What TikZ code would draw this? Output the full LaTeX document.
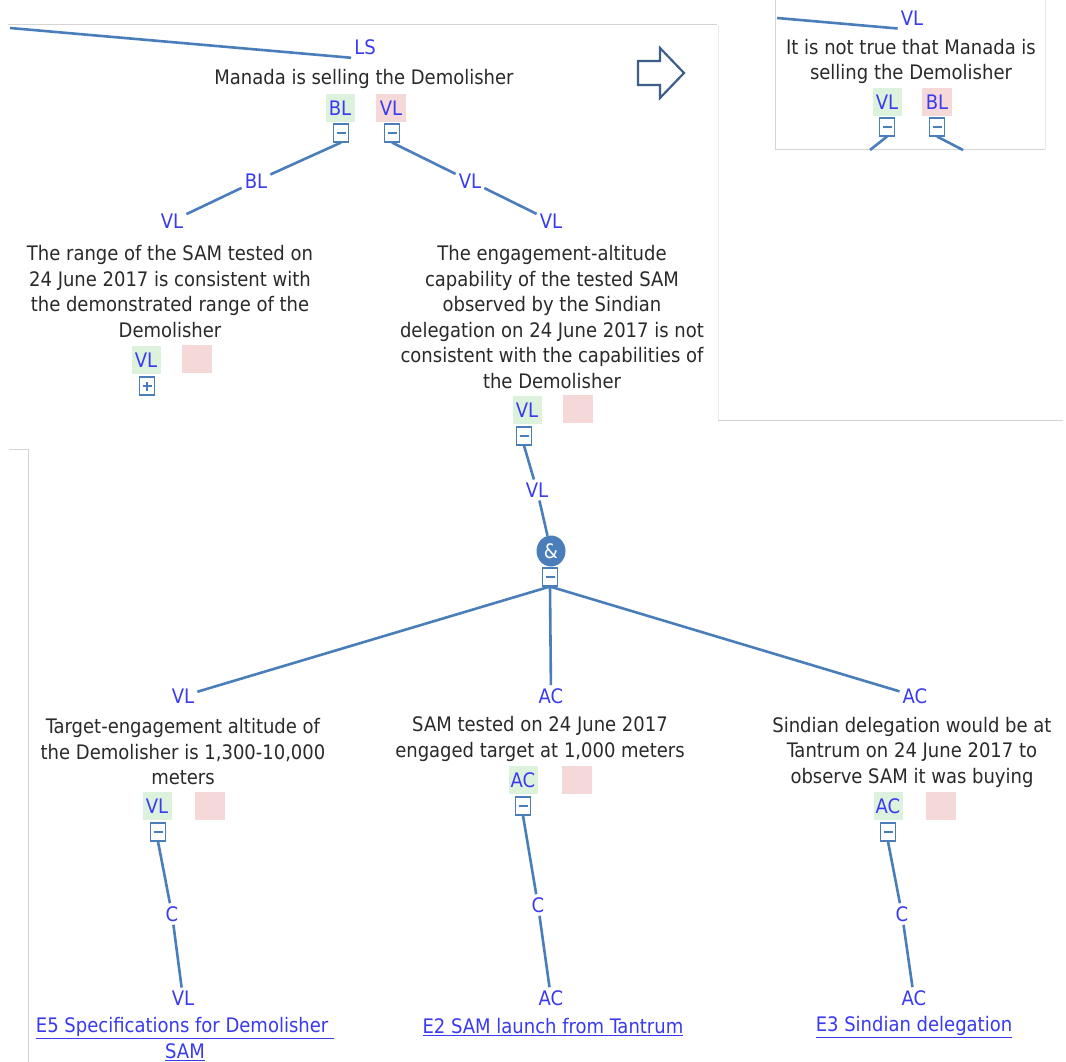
\documentclass[tikz,border=0pt]{standalone}
\usepackage{fontspec}
\setmainfont{DejaVu Sans Condensed}
\definecolor{lineblue}{HTML}{4A7EBB}
\definecolor{lblblue}{HTML}{3A3AF0}
\definecolor{txtgray}{HTML}{2A2A2A}
\definecolor{gfill}{HTML}{DDF2DC}
\definecolor{rfill}{HTML}{F5D9D9}
\definecolor{framegray}{HTML}{D4D4D4}
\definecolor{arrowblue}{HTML}{3E5F8A}
\tikzset{
  base/.style={font=\fontsize{20}{25.5}\selectfont},
  txt/.style={base, text=txtgray, align=center, inner sep=1pt},
  lbl/.style={base, text=lblblue, inner sep=3pt},
  gbox/.style={base, text=lblblue, fill=gfill, minimum width=29pt, minimum height=28pt, inner sep=0pt},
  rbox/.style={base, text=lblblue, fill=rfill, minimum width=30pt, minimum height=28pt, inner sep=0pt},
  toggle/.style={draw=lineblue, line width=1.1pt, fill=white, minimum width=15pt, minimum height=18pt, inner sep=0pt},
  minus/.style={toggle, path picture={\draw[lineblue, line width=1.2pt]
      ([xshift=-4.5pt]path picture bounding box.center) -- ([xshift=4.5pt]path picture bounding box.center);}},
  plus/.style={toggle, path picture={\draw[lineblue, line width=1.2pt]
      ([xshift=-4.5pt]path picture bounding box.center) -- ([xshift=4.5pt]path picture bounding box.center)
      ([yshift=-4.5pt]path picture bounding box.center) -- ([yshift=4.5pt]path picture bounding box.center);}},
  andnode/.style={ellipse, fill=lineblue, text=white, minimum width=29pt, minimum height=31pt, inner sep=0pt, base},
  edge/.style={draw=lineblue, line width=2.6pt},
  frame/.style={draw=framegray, line width=1pt},
  link/.style={base, text=lblblue, align=center, inner sep=1pt},
}
\usetikzlibrary{shapes.geometric}
\begin{document}
\begin{tikzpicture}[x=1pt, y=-1pt]
\useasboundingbox (0,0) rectangle (1066,1062);
\fill[white] (0,0) rectangle (1066,1062);

% panel borders
\draw[frame] (8,25) -- (717,25);
\draw[frame, draw=framegray!50] (718,25) -- (718,420);
\draw[frame] (775,0) -- (775,150) -- (1045,150);
\draw[frame, draw=framegray!50] (1045,0) -- (1045,150);
\draw[frame] (718,420) -- (1063,420);
\draw[frame] (9,449) -- (28,449) -- (28,1062);

% outline arrow between panels
\draw[arrowblue, line width=2.2pt, line join=miter]
  (638,61) -- (660,61) -- (660,48) -- (684,73) -- (660,98) -- (660,85) -- (638,85) -- cycle;

% ---------- top claim ----------
\coordinate (in0) at (10,28);
\node[lbl] (ls) at (365,47) {LS};
\node[txt] (n0) at (364,79) {Manada is selling the Demolisher};
\node[gbox] (n0g) at (340,108) {BL};
\node[rbox] (n0r) at (391,108) {VL};
\node[minus] (n0gm) at (341,133) {};
\node[minus] (n0rm) at (392,133) {};
\draw[edge] (in0) -- (ls.south west);

\node[lbl] (e1a) at (256,181) {BL};
\node[lbl] (e1b) at (172,221) {VL};
\node[lbl] (e2a) at (470,181) {VL};
\node[lbl] (e2b) at (551,221) {VL};
\draw[edge] (n0gm.south) -- (e1a);
\draw[edge] (e1a) -- (e1b);
\draw[edge] (n0rm.south) -- (e2a);
\draw[edge] (e2a) -- (e2b);

% ---------- left reason ----------
\node[txt] (n1) at (170,291.5) {The range of the SAM tested on\\24 June 2017 is consistent with\\the demonstrated range of the\\Demolisher};
\node[gbox] (n1g) at (146,360) {VL};
\node[rbox] (n1r) at (197,359) {};
\node[plus] (n1p) at (147,386) {};

% ---------- right reason ----------
\node[txt] (n2) at (552,317) {The engagement-altitude\\capability of the tested SAM\\observed by the Sindian\\delegation on 24 June 2017 is not\\consistent with the capabilities of\\the Demolisher};
\node[gbox] (n2g) at (527,410) {VL};
\node[rbox] (n2r) at (578,409) {};
\node[minus] (n2m) at (524,436) {};
\node[lbl] (e3) at (537,490) {VL};
\node[andnode] (and) at (551,551) {\&};
\node[minus] (andm) at (550,577) {};
\draw[edge] (n2m.south) -- (e3);
\draw[edge] (e3) -- (and);

% ---------- premises ----------
\node[lbl] (e4) at (183,696) {VL};
\node[lbl] (e5) at (551,696) {AC};
\node[lbl] (e6) at (915,696) {AC};
\draw[edge] (andm.south) -- (e4);
\draw[edge] (andm.south) -- (e5);
\draw[edge] (andm.south) -- (e6);

\node[txt] (p1) at (183,752) {Target-engagement altitude of\\the Demolisher is 1,300-10,000\\meters};
\node[gbox] (p1g) at (157,806) {VL};
\node[rbox] (p1r) at (210,806) {};
\node[minus] (p1m) at (158,832) {};
\node[lbl] (c1) at (172,914) {C};
\node[lbl] (s1) at (183,998) {VL};
\draw[edge] (p1m.south) -- (c1);
\draw[edge] (c1) -- (s1);
\node[link] (l1) at (185,1039) {\underline{E5 Specifications for Demolisher\ }\\\underline{SAM}};

\node[txt] (p2) at (540,739) {SAM tested on 24 June 2017\\engaged target at 1,000 meters};
\node[gbox] (p2g) at (523,780) {AC};
\node[rbox] (p2r) at (577,780) {};
\node[minus] (p2m) at (523,806) {};
\node[lbl] (c2) at (538,905) {C};
\node[lbl] (s2) at (551,998) {AC};
\draw[edge] (p2m.south) -- (c2);
\draw[edge] (c2) -- (s2);
\node[link] (l2) at (553,1027) {\underline{E2 SAM launch from Tantrum}};

\node[txt] (p3) at (912,752) {Sindian delegation would be at\\Tantrum on 24 June 2017 to\\observe SAM it was buying};
\node[gbox] (p3g) at (888,806) {AC};
\node[rbox] (p3r) at (941,806) {};
\node[minus] (p3m) at (888,832) {};
\node[lbl] (c3) at (902,914) {C};
\node[lbl] (s3) at (914,998) {AC};
\draw[edge] (p3m.south) -- (c3);
\draw[edge] (c3) -- (s3);
\node[link] (l3) at (914,1027) {\underline{E3 Sindian delegation}};

% ---------- opposing claim panel ----------
\coordinate (in1) at (777,18);
\node[lbl] (rv) at (912,18) {VL};
\node[txt] (q0) at (911,61.5) {It is not true that Manada is\\selling the Demolisher};
\node[gbox] (q0g) at (887,102) {VL};
\node[rbox] (q0r) at (937,102) {BL};
\node[minus] (q0gm) at (887,127) {};
\node[minus] (q0rm) at (937,127) {};
\coordinate (q0a) at (870,150);
\coordinate (q0b) at (963,150);
\draw[edge] (in1) -- (rv.south west);
\draw[edge] (q0gm.south) -- (q0a);
\draw[edge] (q0rm.south) -- (q0b);
\end{tikzpicture}
\end{document}
